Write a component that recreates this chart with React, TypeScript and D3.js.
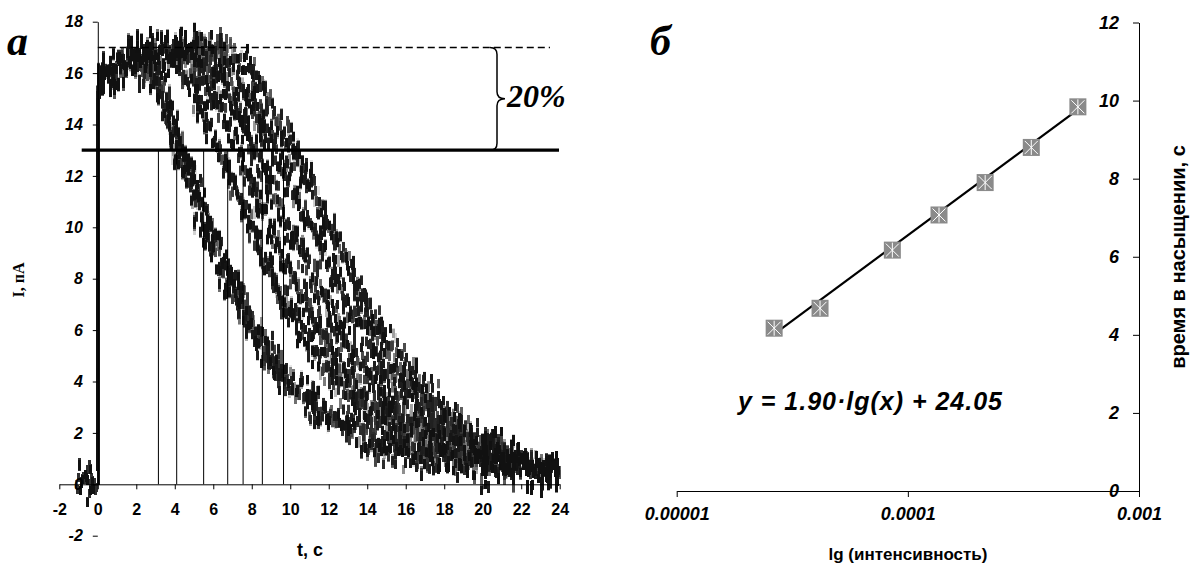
import React, { useEffect, useRef } from 'react';
import * as d3 from 'd3';

const W = 1191;
const H = 571;

// panel а — current traces, sample times in s
const times = [-1.1, 0, 0.02, 0.3, 0.7, 1.5, 2.5, 3, 3.5, 4, 4.5, 5, 5.5, 6, 6.5, 7, 7.5, 8, 8.5, 9, 9.5, 10, 10.5, 11,
  12, 13, 14, 15, 16, 17, 18, 19, 20, 21, 22, 23, 24];

const trace1 = [0, 0, 15.4, 15.9, 16.0, 16.2, 16.1, 15.6, 14.6, 13.1, 12.1, 11.0, 10.0, 9.0, 8.1, 7.3, 6.6, 5.9, 5.3, 4.8, 4.3, 3.9, 3.5, 3.2,
  2.7, 2.2, 1.7, 1.4, 1.2, 1.0, 0.9, 0.8, 0.7, 0.6, 0.5, 0.5, 0.4];
const trace2 = [0, 0, 15.5, 16.0, 16.1, 16.3, 16.4, 16.1, 15.4, 14.2, 12.9, 11.9, 10.9, 9.8, 8.9, 8.0, 7.2, 6.4, 5.7, 5.1, 4.6, 4.1, 3.7, 3.3,
  2.8, 2.3, 1.9, 1.5, 1.3, 1.1, 0.9, 0.8, 0.7, 0.6, 0.5, 0.5, 0.4];
const trace3 = [0, 0, 15.5, 16.0, 16.2, 16.4, 16.6, 16.6, 16.6, 16.4, 16.0, 15.3, 14.4, 13.5, 12.6, 11.7, 10.8, 9.9, 9.0, 8.2, 7.4, 6.7, 6.0, 5.4,
  4.4, 3.5, 2.8, 2.2, 1.8, 1.5, 1.2, 1.0, 0.9, 0.7, 0.6, 0.5, 0.5];
const trace4 = [0, 0, 15.5, 16.0, 16.2, 16.4, 16.6, 16.7, 16.7, 16.7, 16.6, 16.3, 15.8, 15.1, 14.3, 13.5, 12.6, 11.7, 10.8, 9.9, 9.1, 8.3, 7.5, 6.8,
  5.5, 4.4, 3.5, 2.8, 2.2, 1.8, 1.5, 1.2, 1.0, 0.8, 0.7, 0.6, 0.5];
const trace5 = [0, 0, 15.6, 16.1, 16.3, 16.5, 16.7, 16.8, 16.8, 16.8, 16.8, 16.8, 16.6, 16.2, 15.6, 14.9, 14.1, 13.3, 12.5, 11.6, 10.8, 9.9, 9.1, 8.3,
  6.9, 5.6, 4.5, 3.6, 2.9, 2.3, 1.8, 1.5, 1.2, 1.0, 0.8, 0.7, 0.6];
const trace6 = [0, 0, 15.6, 16.1, 16.3, 16.5, 16.7, 16.8, 16.9, 16.9, 16.9, 16.9, 16.9, 16.8, 16.5, 16.0, 15.4, 14.8, 14.0, 13.3, 12.6, 11.8, 11.0, 10.2,
  8.6, 7.1, 5.8, 4.7, 3.7, 2.9, 2.3, 1.8, 1.4, 1.1, 0.9, 0.7, 0.6];
const trace7 = [0, 0, 15.6, 16.2, 16.4, 16.6, 16.8, 16.9, 16.9, 17.0, 17.0, 17.0, 17.0, 16.9, 16.9, 16.8, 16.5, 16.0, 15.4, 14.7, 14.0, 13.3, 12.5, 11.7,
  10.1, 8.5, 7.0, 5.7, 4.6, 3.6, 2.8, 2.2, 1.7, 1.3, 1.0, 0.8, 0.6];
const traces = [trace1, trace2, trace3, trace4, trace5, trace6, trace7];

const markTimes = [3.15, 4.1, 5.5, 6.75, 7.55, 8.55, 9.65];
const plateauLevel = 17;
const thresholdLevel = 13;
const leftYTicks = [-2, 0, 2, 4, 6, 8, 10, 12, 14, 16, 18];
const leftXTicks = [-2, 0, 2, 4, 6, 8, 10, 12, 14, 16, 18, 20, 22, 24];

// panel б — saturation time vs intensity
const intensity = [2.64e-5, 4.17e-5, 8.57e-5, 1.364e-4, 2.16e-4, 3.42e-4, 5.44e-4];
const satTime = [4.17, 4.68, 6.17, 7.07, 7.90, 8.80, 9.84];
const fitSlope = 1.90;
const fitIntercept = 24.05;
const rightYTicks = [0, 2, 4, 6, 8, 10, 12];
const rightXTicks = [1e-5, 1e-4, 1e-3];
const rightXLabels = ['0.00001', '0.0001', '0.001'];

const SANS = '"Liberation Sans", Arial, sans-serif';
const SERIF = '"Liberation Serif", "Times New Roman", serif';

function styleText(sel: any, size: number, italic: boolean, family = SANS) {
  sel.style('font-family', family)
    .style('font-size', size + 'px')
    .style('font-weight', 'bold')
    .style('font-style', italic ? 'italic' : 'normal')
    .attr('fill', '#000');
}

export default function App() {
  const ref = useRef<SVGSVGElement>(null);

  useEffect(() => {
    const svg = d3.select(ref.current);
    svg.selectAll('*').remove();

    // noisy look of the recorded traces (render effect only)
    const defs = svg.append('defs');
    const f = defs.append('filter').attr('id', 'jitter')
      .attr('filterUnits', 'userSpaceOnUse')
      .attr('x', 0).attr('y', 0).attr('width', W).attr('height', H)
      .attr('color-interpolation-filters', 'sRGB');
    f.append('feTurbulence').attr('type', 'fractalNoise')
      .attr('baseFrequency', '1.7 0.04').attr('numOctaves', 1).attr('seed', 3).attr('result', 'noise');
    f.append('feColorMatrix').attr('in', 'noise').attr('type', 'matrix')
      .attr('values', '1 0 0 0 0  0 0 0 0 0.5  0 0 0 0 0  0 0 0 0 1').attr('result', 'disp');
    f.append('feDisplacementMap').attr('in', 'SourceGraphic').attr('in2', 'disp')
      .attr('scale', 85).attr('xChannelSelector', 'G').attr('yChannelSelector', 'R').attr('result', 'moved');
    f.append('feMorphology').attr('in', 'moved').attr('operator', 'dilate').attr('radius', '1 4');

    // ---------- panel а ----------
    const xA = d3.scaleLinear().domain([-2, 24]).range([59.3, 559.7]);
    const yA = d3.scaleLinear().domain([0, 18]).range([484.3, 21.7]);

    const line = d3.line<number>()
      .x((d, i) => xA(times[i]))
      .y(d => yA(d));

    svg.append('g').attr('filter', 'url(#jitter)')
      .selectAll('path')
      .data(traces)
      .enter().append('path')
      .attr('d', d => line(d))
      .attr('fill', 'none')
      .attr('stroke', '#111')
      .attr('stroke-width', 1.3);

    const yAxisA = d3.axisLeft(yA).tickValues(leftYTicks).tickFormat(d => String(d))
      .tickSize(5).tickSizeOuter(0).tickPadding(10);
    const gy = svg.append('g').attr('transform', 'translate(' + [xA(0), 0] + ')').call(yAxisA);
    styleText(gy.selectAll('text'), 16, true);

    const xAxisA = d3.axisBottom(xA).tickValues(leftXTicks).tickFormat(d => String(d))
      .tickSize(5).tickSizeOuter(0).tickPadding(14);
    const gx = svg.append('g').attr('transform', 'translate(' + [0, yA(0)] + ')').call(xAxisA);
    styleText(gx.selectAll('text'), 16, false);
    svg.selectAll('.domain, .tick line').attr('stroke', '#000');

    // markers of the 13 pA crossing
    svg.append('g').selectAll('line')
      .data(markTimes)
      .enter().append('line')
      .attr('x1', d => xA(d)).attr('x2', d => xA(d))
      .attr('y1', yA(thresholdLevel)).attr('y2', yA(0))
      .attr('stroke', '#000').attr('stroke-width', 1);

    svg.append('line')
      .attr('x1', xA(0)).attr('x2', 550)
      .attr('y1', yA(plateauLevel)).attr('y2', yA(plateauLevel))
      .attr('stroke', '#000').attr('stroke-width', 1.5).attr('stroke-dasharray', '7,4');

    svg.append('line')
      .attr('x1', 81.7).attr('x2', 559)
      .attr('y1', yA(thresholdLevel)).attr('y2', yA(thresholdLevel))
      .attr('stroke', '#000').attr('stroke-width', 3.2);

    // brace between the two levels
    const y17 = yA(plateauLevel), y13 = yA(thresholdLevel), ym = (y17 + y13) / 2;
    svg.append('path')
      .attr('d', `M490,${y17} Q497,${y17} 497,${y17 + 7} L497,${ym - 7} Q497,${ym} 505,${ym} Q497,${ym} 497,${ym + 7} L497,${y13 - 7} Q497,${y13} 490,${y13}`)
      .attr('fill', 'none').attr('stroke', '#000').attr('stroke-width', 1.5);

    styleText(svg.append('text').attr('x', 507).attr('y', 107).text('20%'), 32, true, SERIF);
    styleText(svg.append('text').attr('x', 7).attr('y', 55).text('а'), 42, true, SERIF);

    styleText(svg.append('text')
      .attr('transform', 'translate(24,280) rotate(-90)')
      .attr('text-anchor', 'middle')
      .text('I, пА'), 16, false, SERIF);

    styleText(svg.append('text')
      .attr('x', 310).attr('y', 556)
      .attr('text-anchor', 'middle')
      .text('t, с'), 18, false);

    // ---------- panel б ----------
    const xB = d3.scaleLog().domain([1e-5, 1e-3]).range([676.7, 1139]);
    const yB = d3.scaleLinear().domain([0, 12]).range([491, 22.5]);

    const xAxisB = d3.axisBottom(xB).tickValues(rightXTicks)
      .tickFormat((d, i) => rightXLabels[i]).tickSize(6).tickSizeOuter(0).tickPadding(10);
    const gxb = svg.append('g').attr('transform', 'translate(' + [0, yB(0)] + ')').call(xAxisB);
    styleText(gxb.selectAll('text'), 18, true);
    gxb.selectAll('.domain, .tick line').attr('stroke', '#000');

    const yAxisB = d3.axisLeft(yB).tickValues(rightYTicks).tickFormat(d => String(d))
      .tickSize(6).tickSizeOuter(0).tickPadding(14);
    const gyb = svg.append('g').attr('transform', 'translate(' + [xB(1e-3), 0] + ')').call(yAxisB);
    styleText(gyb.selectAll('text'), 18, true);
    gyb.selectAll('.domain, .tick line').attr('stroke', '#000');

    // fit line y = a·ln(x) + b
    const fitX = [intensity[0], intensity[intensity.length - 1]];
    const fitLine = d3.line<number>()
      .x(d => xB(d))
      .y(d => yB(fitSlope * Math.log(d) + fitIntercept));
    svg.append('path')
      .attr('d', fitLine(fitX))
      .attr('fill', 'none').attr('stroke', '#000').attr('stroke-width', 2.2);

    const pts = svg.append('g').selectAll('g')
      .data(intensity)
      .enter().append('g')
      .attr('transform', (d, i) => 'translate(' + [xB(d), yB(satTime[i])] + ')');
    const s = 8.5;
    pts.append('rect')
      .attr('x', -s).attr('y', -s).attr('width', 2 * s).attr('height', 2 * s)
      .attr('fill', '#8a8a8a');
    pts.append('path')
      .attr('d', `M${-s + 2},${-s + 2}L${s - 2},${s - 2}M${s - 2},${-s + 2}L${-s + 2},${s - 2}M0,${-s + 1}V${s - 1}`)
      .attr('stroke', '#fff').attr('stroke-width', 1);

    styleText(svg.append('text')
      .attr('x', 738).attr('y', 410)
      .attr('textLength', 264).attr('lengthAdjust', 'spacing')
      .text('y = 1.90·lg(x) + 24.05'), 25, true);

    styleText(svg.append('text').attr('x', 650).attr('y', 55).text('б'), 42, true, SERIF);

    styleText(svg.append('text')
      .attr('x', 908).attr('y', 560)
      .attr('text-anchor', 'middle')
      .text('lg (интенсивность)'), 17, false);

    styleText(svg.append('text')
      .attr('transform', 'translate(1185,257) rotate(-90)')
      .attr('text-anchor', 'middle')
      .text('время в насыщении, с'), 20, false);
  }, []);

  return (
    <svg ref={ref} width={W} height={H}
      style={{ position: 'absolute', left: 0, top: 0, background: '#fff', display: 'block' }} />
  );
}
